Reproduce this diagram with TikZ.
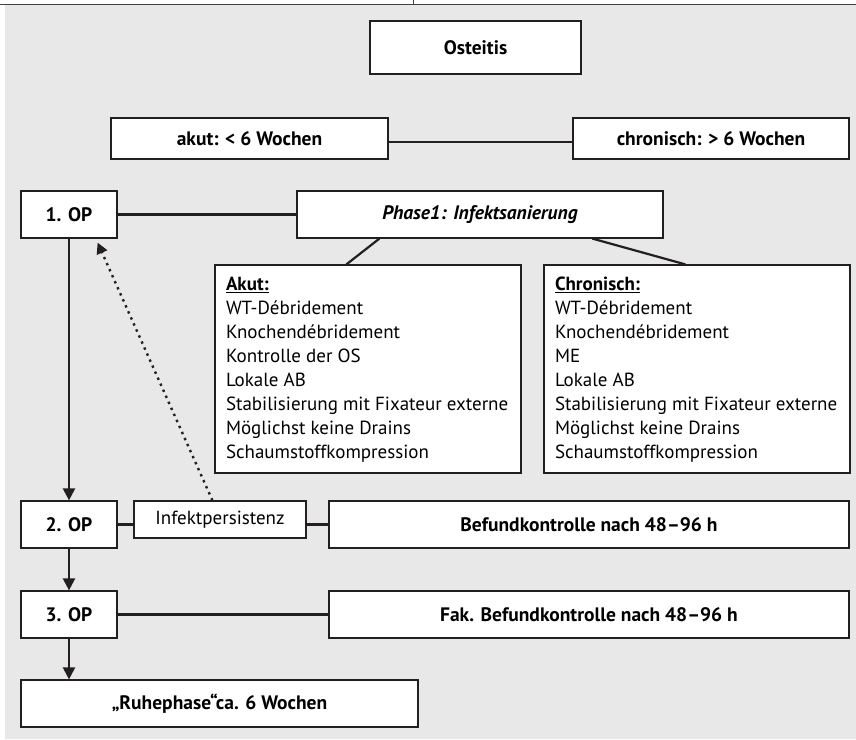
\documentclass[tikz,border=0pt]{standalone}
\usepackage{fontspec}
\setmainfont{PT Sans}
\usetikzlibrary{arrows.meta}
\definecolor{bg}{RGB}{231,232,231}
\definecolor{ink}{RGB}{35,31,32}
\begin{document}
\begin{tikzpicture}[x=1pt,y=-1pt,
  box/.style={draw=ink,line width=1.2pt,fill=white,inner sep=2pt,
    font=\fontsize{19.5}{22}\selectfont\bfseries},
  plainbox/.style={box,font=\fontsize{19}{22}\selectfont},
  listbox/.style={draw=ink,line width=1.2pt,fill=white,inner xsep=11pt,inner ysep=9pt,
    minimum width=306pt,minimum height=208pt,font=\fontsize{19}{24}\selectfont},
  opbox/.style={box,minimum width=96pt,minimum height=47pt},
  conn/.style={draw=ink,line width=2.2pt},
  arr/.style={conn,-{Triangle[width=12pt,length=12pt]}},
  dotarr/.style={draw=ink,line width=2.4pt,dash pattern=on 2.4pt off 4.2pt,
    -{Triangle[width=11pt,length=11pt]}}
]
\useasboundingbox (0,0) rectangle (856,739);
\fill[bg] (5,5) rectangle (856,739);
\draw[ink!85,line width=1.2pt] (0,4.5) -- (856,4.5);
\draw[ink!85,line width=1pt] (413,0) -- (413,4.5);

\node[box,minimum width=211pt,minimum height=53pt] (ost) at (475.5,47.5) {Osteitis};
\node[box,minimum width=277pt,minimum height=41pt] (akut) at (249.5,138.5) {akut: < 6 Wochen};
\node[box,minimum width=276pt,minimum height=41pt] (chron) at (711,138.5) {chronisch: > 6 Wochen};

\node[opbox] (op1) at (69,214.5) {1. OP};
\node[box,minimum width=366pt,minimum height=47pt] (phase) at (480,214.5) {\itshape Phase1: Infektsanierung};

\node[listbox] (akl) at (368,369) {\parbox[c][190pt][t]{284pt}{\strut\underline{\textbf{Akut:}}\\
WT-Débridement\\
Knochendébridement\\
Kontrolle der OS\\
Lokale AB\\
Stabilisierung mit Fixateur externe\\
Möglichst keine Drains\\
Schaumstoffkompression}};
\node[listbox] (chl) at (697,369) {\parbox[c][190pt][t]{284pt}{\strut\underline{\textbf{Chronisch:}}\\
WT-Débridement\\
Knochendébridement\\
ME\\
Lokale AB\\
Stabilisierung mit Fixateur externe\\
Möglichst keine Drains\\
Schaumstoffkompression}};

\node[opbox] (op2) at (69,524.5) {2. OP};
\node[plainbox,minimum width=172pt,minimum height=37pt] (inf) at (220,519.5) {Infektpersistenz};
\node[box,minimum width=520pt,minimum height=47pt] (bef) at (589,524.5) {Befundkontrolle nach 48–96 h};

\node[opbox] (op3) at (69,614.5) {3. OP};
\node[box,minimum width=520pt,minimum height=47pt] (fak) at (589,614.5) {Fak. Befundkontrolle nach 48–96 h};

\node[box,minimum width=397pt,minimum height=47pt] (ruhe) at (219.5,703.5) {„Ruhephase“ca. 6 Wochen};

% connectors
\draw[conn] ([yshift=-3.5pt]akut.east) -- ([yshift=-3.5pt]chron.west);
\draw[conn] (op1.east) -- (phase.west);
\draw[conn] ([xshift=83pt]phase.south west) -- ([xshift=132pt]akl.north west);
\draw[conn] ([xshift=296pt]phase.south west) -- ([xshift=142pt]chl.north west);
\draw[conn] (op2.east) -- (op2.east -| inf.west);
\draw[conn] (op2.east -| inf.east) -- (bef.west);
\draw[conn] (op3.east) -- (fak.west);

\draw[arr] (op1.south) -- (op2.north);
\draw[arr] (op2.south) -- (op3.north);
\draw[arr] (op3.south) -- (op3.south |- ruhe.north);

\draw[dotarr] ([xshift=79pt]inf.north west) -- ([xshift=-20pt,yshift=-4pt]op1.south east);
\end{tikzpicture}
\end{document}
